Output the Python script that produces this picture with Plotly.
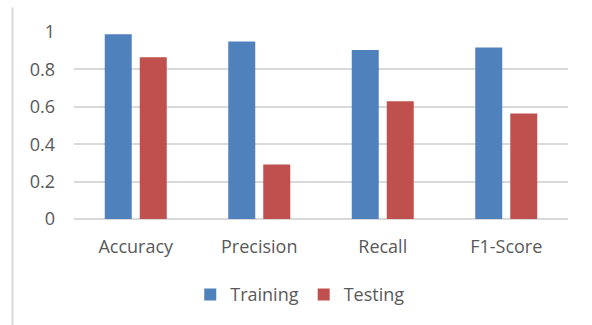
import plotly.graph_objects as go

categories = ["Accuracy", "Precision", "Recall", "F1-Score"]
training = [0.988, 0.949, 0.904, 0.917]
testing = [0.865, 0.292, 0.630, 0.564]
y_ticks = [0, 0.2, 0.4, 0.6, 0.8, 1]
y_tick_labels = ["0", "0.2", "0.4", "0.6", "0.8", "1"]

FONT = "'Open Sans', 'Noto Sans', sans-serif"
GRAY = "#595959"
FS = 18

fig = go.Figure()
fig.add_trace(go.Bar(name="Training", x=categories, y=training,
                     marker=dict(color="#4F81BD", line=dict(width=0))))
fig.add_trace(go.Bar(name="Testing", x=categories, y=testing,
                     marker=dict(color="#C0504D", line=dict(width=0))))

fig.update_layout(
    width=592, height=325,
    margin=dict(l=74, r=24, t=32, b=106),
    paper_bgcolor="white", plot_bgcolor="white",
    barmode="group", bargap=0.433, bargroupgap=0.229,
    font=dict(family=FONT, size=FS, color=GRAY),
    showlegend=True,
    legend=dict(orientation="h", x=0.458, xanchor="center", y=-0.405, yanchor="middle",
                font=dict(family=FONT, size=FS, color=GRAY),
                traceorder="normal"),
    xaxis=dict(showgrid=False, showline=False, ticks="", ticklabelstandoff=15,
               tickfont=dict(family=FONT, size=FS, color=GRAY)),
    yaxis=dict(range=[0, 1], tickvals=y_ticks, ticktext=y_tick_labels,
               showgrid=True, gridcolor="#D9D9D9", gridwidth=1.5,
               zeroline=True, zerolinecolor="#D9D9D9", zerolinewidth=1.5,
               showline=False, ticks="", ticklabelstandoff=18,
               tickfont=dict(family=FONT, size=FS, color=GRAY)),
    shapes=[dict(type="line", xref="paper", yref="paper",
                 x0=-0.1245, x1=-0.1245, y0=-0.6, y1=1.132,
                 line=dict(color="#D9D9D9", width=2))],
)

fig.write_html("out.html")
